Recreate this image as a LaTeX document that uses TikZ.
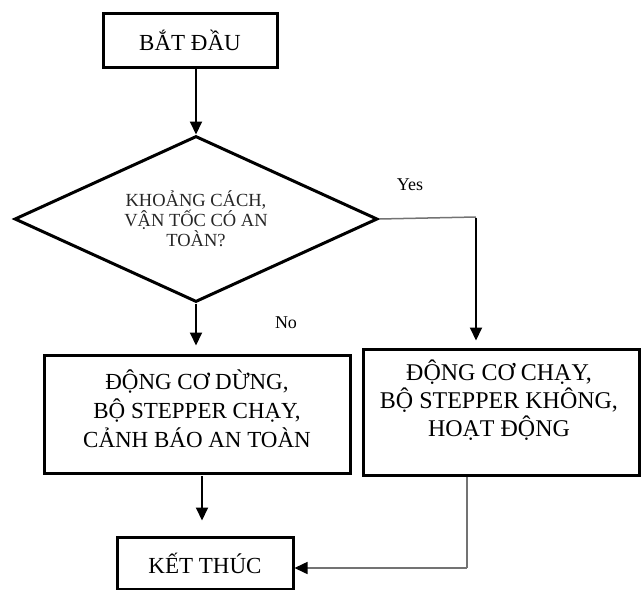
\documentclass[tikz,border=0pt]{standalone}
\usepackage{fontspec}
\setmainfont{Liberation Serif}
\usetikzlibrary{shapes.geometric,arrows.meta}
\begin{document}
\begin{tikzpicture}[x=1pt,y=-1pt,
  boxnode/.style={draw=black,line width=3pt,rectangle,inner sep=0pt},
  boxfont/.style={font=\fontsize{23}{29}\selectfont,align=center,inner sep=0pt},
  dianode/.style={draw=black,line width=3pt,diamond,aspect=2.2,inner sep=0pt,
    minimum width=363pt,minimum height=166pt,align=center,
    font=\fontsize{18.5}{20}\selectfont,text=black!85},
  lblfont/.style={font=\fontsize{18}{20}\selectfont,inner sep=0pt},
  arr/.style={draw=black,line width=1.9pt,-{Triangle[length=13pt,width=12pt]}},
  gline/.style={draw=black!55,line width=1.5pt},
  garr/.style={draw=black!55,line width=1.5pt,-{Triangle[length=13pt,width=12pt,color=black]}}
]
\useasboundingbox (0,0) rectangle (641,590);

\node[boxnode,minimum width=174pt,minimum height=54pt,boxfont] (start) at (190,40) {BẮT ĐẦU};

\node[dianode] (dia) at (196,219) {KHOẢNG CÁCH,\\ VẬN TỐC CÓ AN\\ TOÀN?};

\node[boxnode,minimum width=306pt,minimum height=118pt] (lbox) at (197,414) {};
\node[boxfont] (ltext) at (197,409) {ĐỘNG CƠ DỪNG,\\ BỘ STEPPER CHẠY,\\ CẢNH BÁO AN TOÀN};

\node[boxnode,minimum width=276pt,minimum height=126pt] (rbox) at (501,412) {};
\node[boxfont,font=\fontsize{24}{28}\selectfont] (rtext) at (499,400) {ĐỘNG CƠ CHẠY,\\ BỘ STEPPER KHÔNG,\\ HOẠT ĐỘNG};

\node[boxnode,minimum width=176pt,minimum height=52pt,boxfont] (endb) at (205,563) {KẾT THÚC};

\node[lblfont] (yes) at (410,185) {Yes};
\node[lblfont] (no) at (286,323) {No};

\coordinate (yc) at (476,217);
\coordinate (rc) at (467,568);
\coordinate (lc) at (202,476);

\draw[arr] (start.south -| dia.north) -- (dia.north);
\draw[arr,shorten >=8pt] (dia.south) -- (dia.south |- lbox.north);
\draw[gline] (dia.east) -- (yc);
\draw[arr,shorten >=7pt] ([yshift=-1pt]yc) -- (yc |- rbox.north);
\draw[arr,shorten >=15pt] (lc) -- (lc |- endb.north);
\draw[gline] (rbox.south -| rc) -- (rc);
\draw[garr] (rc) -- (rc -| endb.east);
\end{tikzpicture}
\end{document}
